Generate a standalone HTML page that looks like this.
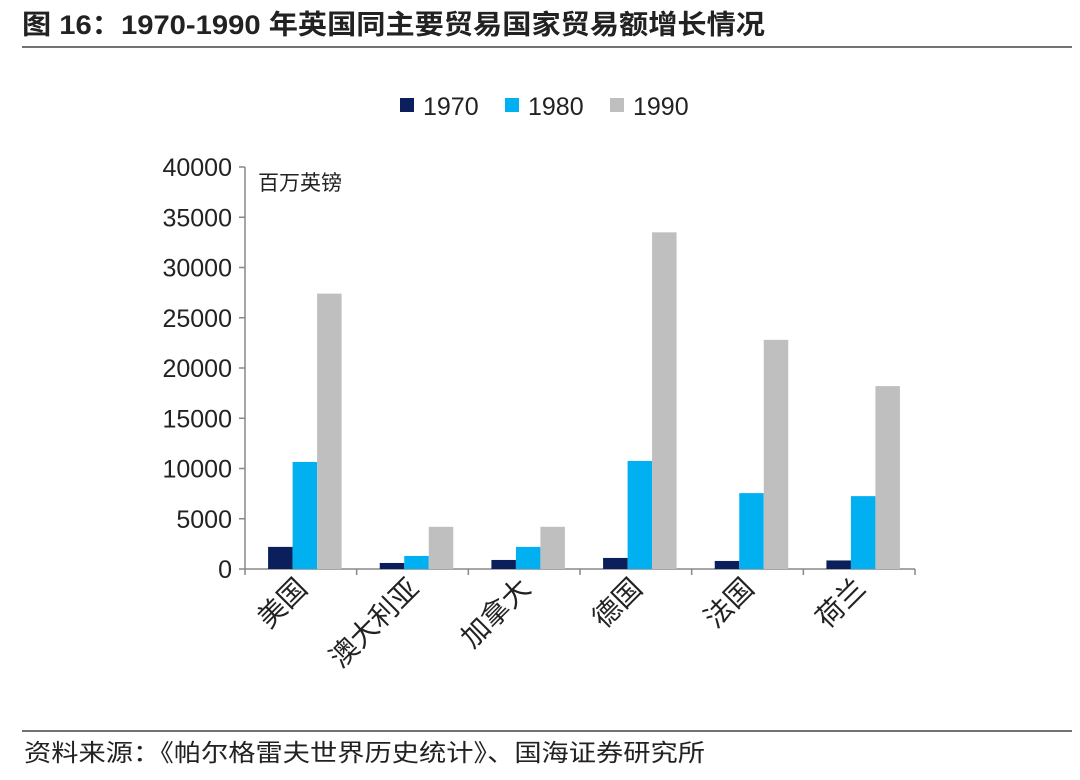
<!DOCTYPE html>
<html><head><meta charset="utf-8"><style>
body{margin:0;background:#fff;width:1080px;height:775px;overflow:hidden;font-family:"Liberation Sans","Noto Sans CJK SC",sans-serif;}
</style></head><body>
<svg width="1080" height="775" xmlns="http://www.w3.org/2000/svg" font-family="Liberation Sans, Noto Sans CJK SC, sans-serif">
<text x="22" y="34" font-size="27" font-weight="bold" fill="#222" textLength="743" lengthAdjust="spacingAndGlyphs">图 16：1970-1990 年英国同主要贸易国家贸易额增长情况</text>
<line x1="22" y1="47" x2="1072" y2="47" stroke="#444" stroke-width="1.5"/>
<line x1="22" y1="731" x2="1072" y2="731" stroke="#444" stroke-width="1.5"/>
<text x="24" y="761" font-size="24" fill="#222" textLength="681" lengthAdjust="spacingAndGlyphs">资料来源：《帕尔格雷夫世界历史统计》、国海证券研究所</text>
<g id="legend"></g>
<g id="chart"></g>
</svg>
<script>
const categories=["美国","澳大利亚","加拿大","德国","法国","荷兰"];
const s1970=[2200,600,900,1100,800,850];
const s1980=[10650,1300,2200,10750,7550,7250];
const s1990=[27400,4200,4200,33500,22800,18200];
const yTicks=[0,5000,10000,15000,20000,25000,30000,35000,40000];
const seriesNames=["1970","1980","1990"];
const colors=["#0b1f5c","#00b0f0","#bfbfbf"];
const NS="http://www.w3.org/2000/svg";
const g=document.getElementById('chart'),lg=document.getElementById('legend');
const x0=245,x1=915,y0=569,yTop=167,yMax=40000;
const y=v=>y0-(v/yMax)*(y0-yTop);
const band=(x1-x0)/categories.length;
const bw=24.5;
function el(t,a,p){const e=document.createElementNS(NS,t);for(const k in a)e.setAttribute(k,a[k]);(p||g).appendChild(e);return e;}
let ax=el('line',{x1:x0,y1:yTop,x2:x0,y2:y0,stroke:'#888','stroke-width':1.5});


let xa=el('line',{x1:x0,y1:y0,x2:x1,y2:y0,stroke:'#888','stroke-width':1.5});


yTicks.forEach(v=>{
 let t=el('line',{x1:x0-6,y1:y(v),x2:x0,y2:y(v),stroke:'#888','stroke-width':1.5});
 
 
 let l=el('text',{x:232,y:y(v)+9,'text-anchor':'end','font-size':25,fill:'#222'});
 l.textContent=v;
 
 
});
for(let i=0;i<=categories.length;i++){
 let t=el('line',{x1:x0+i*band,y1:y0,x2:x0+i*band,y2:y0+6,stroke:'#888','stroke-width':1.5});
 
 
}
let u=el('text',{x:258,y:190,'font-size':21,fill:'#222'});
u.textContent='百万英镑';


const series=[s1970,s1980,s1990];
categories.forEach((c,i)=>{
 const start=x0+i*band+(band-3*bw)/2+4;
 series.forEach((s,j)=>{
  let r=el('rect',{x:start+j*bw,y:y(s[i]),width:bw,height:y0-y(s[i]),fill:colors[j]});
  
  
 });
 const cx=x0+i*band+band/2+8, cy=590;
 let t=el('text',{x:cx,y:cy,'text-anchor':'end','font-size':28,fill:'#222',transform:`rotate(-45 ${cx} ${cy})`});
 t.textContent=c;
 
 
});
const lx=[400,505,610];
seriesNames.forEach((n,j)=>{
 let r=el('rect',{x:lx[j],y:98,width:14,height:14,fill:colors[j]},lg);
 
 
 let t=el('text',{x:lx[j]+23,y:115,'font-size':25,fill:'#222'},lg);
 t.textContent=n;
 
 
});
</script>
</body></html>
